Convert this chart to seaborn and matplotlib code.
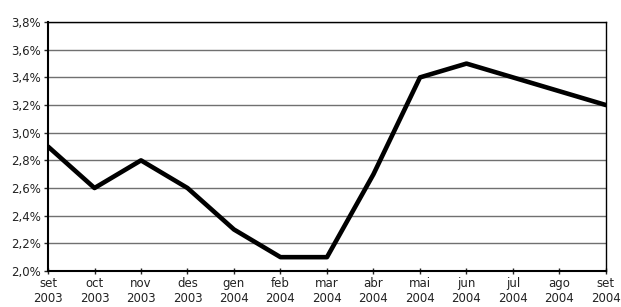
import matplotlib
matplotlib.use("Agg")
import matplotlib.pyplot as plt
import seaborn as sns
import pandas as pd
from matplotlib.ticker import FuncFormatter

months = ["set\n2003", "oct\n2003", "nov\n2003", "des\n2003", "gen\n2004", "feb\n2004",
          "mar\n2004", "abr\n2004", "mai\n2004", "jun\n2004", "jul\n2004", "ago\n2004", "set\n2004"]
rate = [2.9, 2.6, 2.8, 2.6, 2.3, 2.1, 2.1, 2.7, 3.4, 3.5, 3.4, 3.3, 3.2]

df = pd.DataFrame({"pos": range(len(months)), "rate": rate})

sns.set_style("white")
plt.rcParams['font.family'] = ['DejaVu Sans']

fig = plt.figure(figsize=(6.21, 3.07), dpi=100)
ax = fig.add_axes([0.0773, 0.1173, 0.8985, 0.8107])

sns.lineplot(data=df, x="pos", y="rate", ax=ax, color="black", linewidth=3.3)

ax.set_xlim(0, len(months) - 1)
ax.set_ylim(2.0, 3.8)
ax.set_yticks([2.0 + 0.2 * i for i in range(10)])
ax.yaxis.set_major_formatter(FuncFormatter(lambda v, p: f"{v:.1f}%".replace(".", ",")))
ax.set_xticks(range(len(months)))
ax.set_xticklabels(months, linespacing=1.15)
ax.grid(axis="y", color="#707070", linewidth=1)
ax.set_axisbelow(True)
ax.set_xlabel("")
ax.set_ylabel("")

for s in ax.spines.values():
    s.set_visible(True)
    s.set_color("black")
    s.set_linewidth(1)
ax.spines["left"].set_linewidth(1.5)
ax.spines["bottom"].set_linewidth(1.5)

ax.tick_params(axis="y", direction="out", length=3, width=1, labelsize=8.5, pad=2, left=True,
               labelcolor="#222222")
ax.tick_params(axis="x", direction="inout", length=5, width=1, labelsize=8.5, pad=2, bottom=True,
               labelcolor="#222222")

fig.savefig("out.png", dpi=100)
